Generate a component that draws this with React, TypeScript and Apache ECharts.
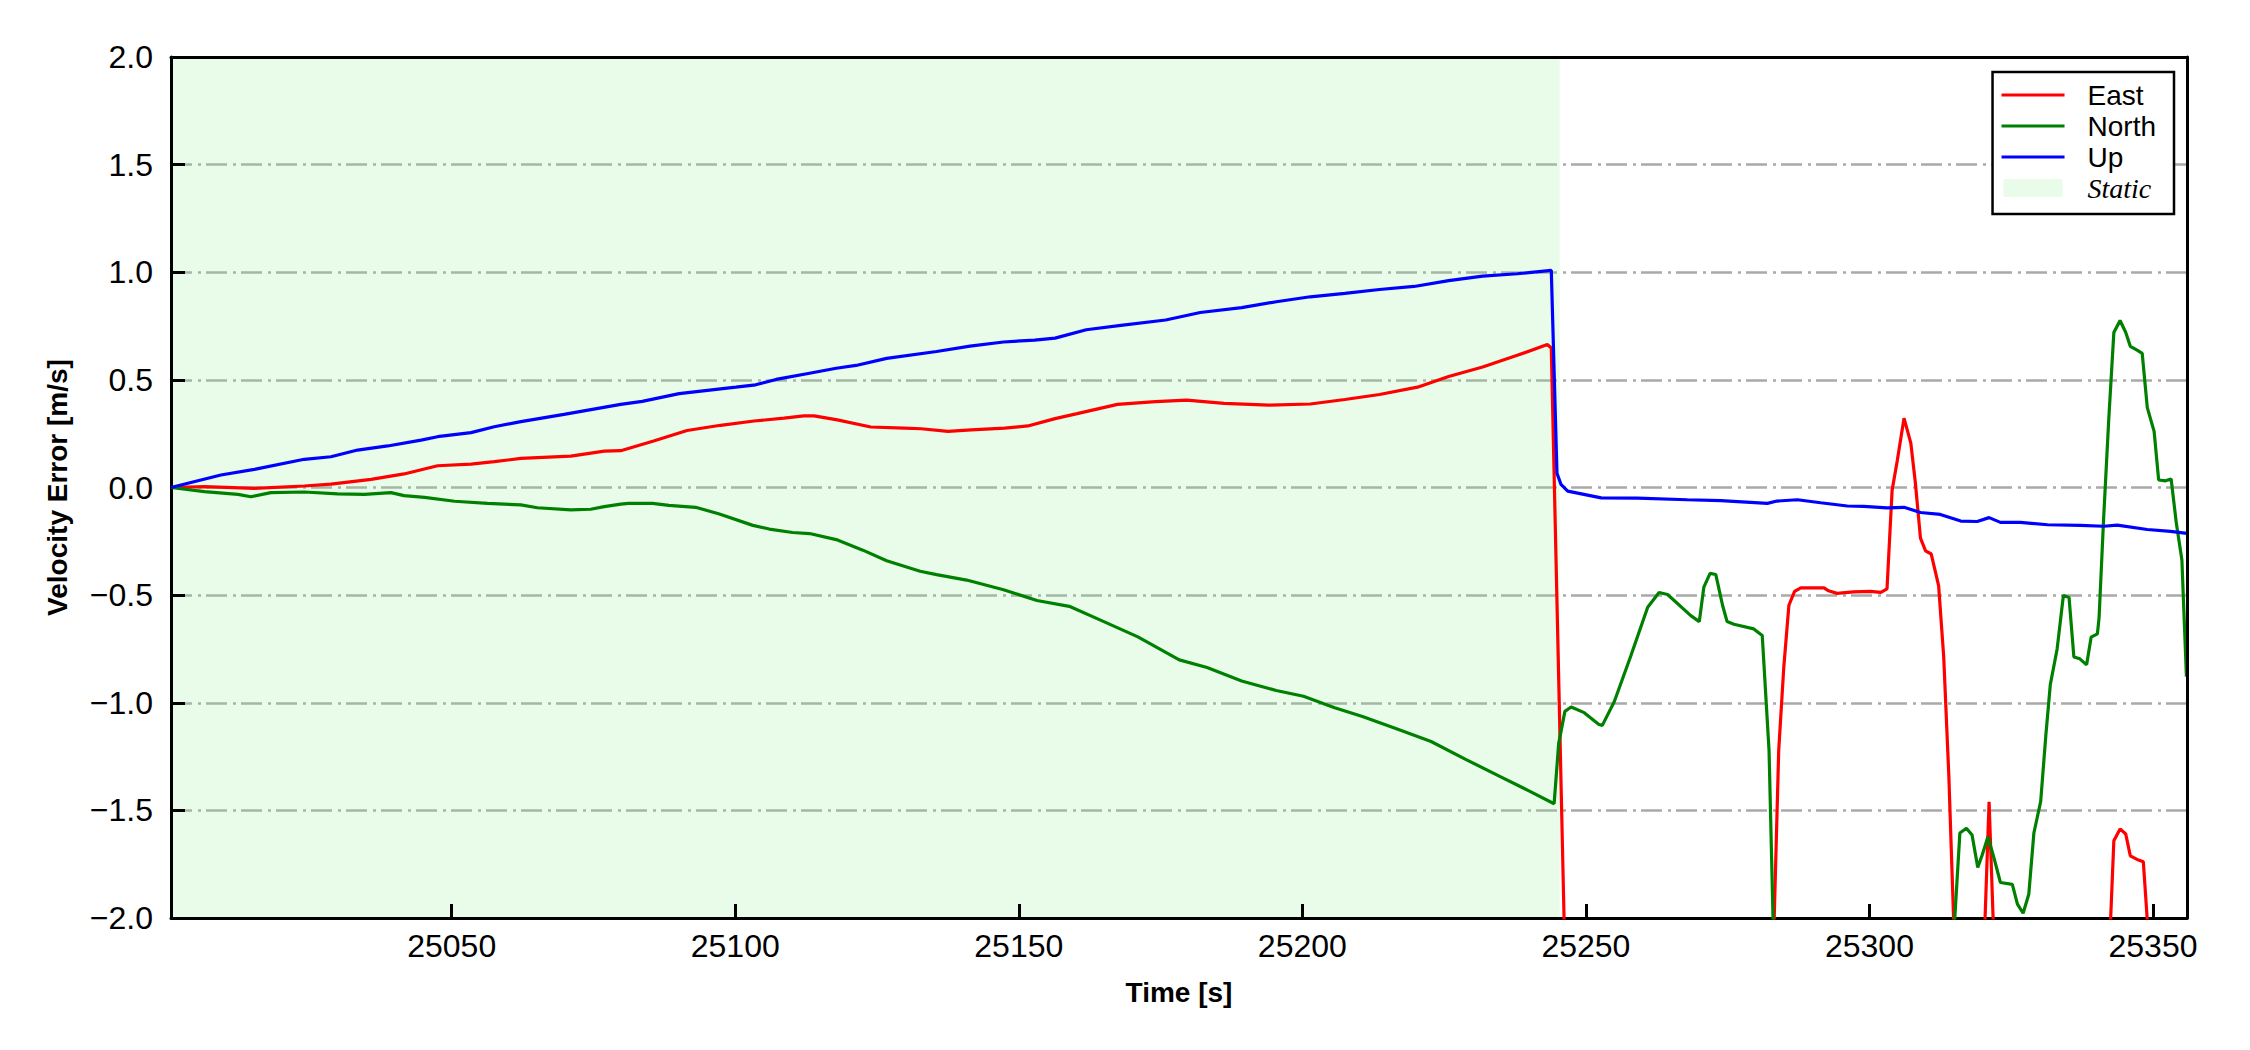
import React, { useEffect, useRef } from 'react';
import * as echarts from 'echarts';

const xTicks = [25050, 25100, 25150, 25200, 25250, 25300, 25350];
const xRange = [25000.5, 25356.0];
const yRange = [-2, 2];
const yStep = 0.5;
const staticRange = [25000.5, 25245.4];

const seriesNames = ['East', 'North', 'Up', 'Static'];
const seriesColors = ['#ff0000', '#008000', '#0000ff', 'rgba(144,238,144,0.2)'];

const eastData: [number, number][] = [
  [25000.5, 0.0], [25006.4, 0.004], [25015.2, -0.004], [25024.0, 0.007], [25028.7, 0.016],
  [25035.8, 0.038], [25041.6, 0.063], [25047.5, 0.101], [25053.4, 0.109], [25057.5, 0.12],
  [25062.2, 0.135], [25071.0, 0.146], [25076.9, 0.169], [25079.8, 0.171], [25085.6, 0.216],
  [25091.5, 0.265], [25097.4, 0.289], [25103.3, 0.309], [25108.6, 0.322], [25112.1, 0.333],
  [25113.9, 0.333], [25118.0, 0.314], [25123.9, 0.281], [25129.8, 0.276], [25132.8, 0.273],
  [25137.5, 0.261], [25141.6, 0.268], [25147.5, 0.276], [25151.6, 0.286], [25156.4, 0.32],
  [25160.1, 0.342], [25167.4, 0.386], [25174.1, 0.399], [25179.6, 0.406], [25186.2, 0.391],
  [25194.1, 0.383], [25201.4, 0.388], [25207.5, 0.409], [25213.6, 0.432], [25220.3, 0.466],
  [25225.8, 0.516], [25231.8, 0.56], [25237.9, 0.614], [25243.2, 0.664], [25243.9, 0.648],
  [25247.0, -3.0], [25250.0, -3.5], [25265.0, -3.5], [25280.0, -3.2], [25282.4, -2.8],
  [25284.0, -1.223], [25284.9, -0.834], [25285.8, -0.547], [25286.8, -0.483], [25287.9, -0.466],
  [25292.0, -0.466], [25292.8, -0.48], [25294.3, -0.492], [25297.2, -0.485], [25300.2, -0.483],
  [25302.0, -0.487], [25303.1, -0.471], [25304.0, -0.013], [25304.9, 0.123], [25306.1, 0.322],
  [25307.3, 0.206], [25308.1, 0.022], [25309.0, -0.235], [25309.9, -0.294], [25310.9, -0.309],
  [25312.2, -0.456], [25313.1, -0.787], [25314.0, -1.338], [25314.9, -2.05], [25315.5, -2.9],
  [25318.0, -3.0], [25320.0, -2.3], [25321.1, -1.46], [25322.2, -2.3], [25330.0, -3.0],
  [25341.3, -2.8], [25343.1, -1.641], [25344.2, -1.586], [25345.2, -1.61], [25346.0, -1.711],
  [25347.2, -1.728], [25348.3, -1.739], [25350.0, -2.4], [25356.0, -3.0],
];

const northData: [number, number][] = [
  [25000.5, 0.0], [25006.4, -0.019], [25012.3, -0.032], [25014.6, -0.043], [25018.1, -0.024],
  [25024.0, -0.021], [25029.9, -0.03], [25034.6, -0.032], [25039.3, -0.024], [25041.6, -0.038],
  [25045.2, -0.046], [25050.5, -0.064], [25056.3, -0.074], [25062.2, -0.081], [25065.1, -0.094],
  [25071.0, -0.104], [25074.5, -0.101], [25076.9, -0.089], [25079.8, -0.077], [25081.2, -0.074],
  [25085.4, -0.074], [25088.3, -0.083], [25093.0, -0.092], [25097.2, -0.123], [25103.1, -0.176],
  [25106.0, -0.193], [25110.1, -0.209], [25113.1, -0.214], [25117.8, -0.242], [25122.5, -0.291],
  [25126.7, -0.34], [25132.6, -0.389], [25135.5, -0.405], [25140.8, -0.43], [25147.3, -0.475],
  [25153.2, -0.525], [25158.9, -0.552], [25165.0, -0.623], [25171.0, -0.694], [25178.3, -0.801],
  [25183.2, -0.836], [25189.3, -0.899], [25195.4, -0.943], [25200.2, -0.97], [25205.7, -1.023],
  [25210.6, -1.064], [25216.6, -1.121], [25222.7, -1.18], [25228.8, -1.263], [25234.9, -1.343],
  [25239.7, -1.406], [25244.4, -1.469], [25245.2, -1.19], [25246.3, -1.04], [25247.4, -1.02],
  [25249.7, -1.046], [25252.3, -1.101], [25252.9, -1.105], [25255.0, -0.995], [25257.9, -0.784],
  [25260.9, -0.556], [25262.9, -0.488], [25264.4, -0.497], [25268.5, -0.595], [25270.0, -0.623],
  [25270.8, -0.463], [25271.9, -0.399], [25272.9, -0.404], [25274.1, -0.547], [25274.9, -0.623],
  [25276.1, -0.635], [25279.6, -0.657], [25281.1, -0.688], [25282.3, -1.223], [25283.0, -2.0],
  [25283.5, -2.6], [25290.0, -3.5], [25300.0, -3.5], [25310.0, -3.2], [25314.6, -2.2],
  [25315.95, -1.605], [25317.1, -1.583], [25318.1, -1.614], [25319.1, -1.765], [25319.9, -1.706],
  [25320.9, -1.623], [25321.9, -1.715], [25323.1, -1.835], [25325.2, -1.844], [25326.1, -1.936],
  [25327.1, -1.978], [25328.1, -1.89], [25329.0, -1.605], [25330.2, -1.458], [25331.1, -1.154],
  [25331.9, -0.915], [25333.1, -0.75], [25334.2, -0.502], [25335.2, -0.511], [25336.05, -0.787],
  [25337.1, -0.796], [25338.3, -0.824], [25339.1, -0.695], [25340.2, -0.68], [25340.5, -0.603],
  [25341.3, -0.143], [25342.2, 0.316], [25343.1, 0.72], [25344.2, 0.776], [25345.2, 0.72],
  [25346.0, 0.656], [25347.2, 0.638], [25348.1, 0.623], [25349.0, 0.371], [25350.2, 0.261],
  [25351.0, 0.035], [25352.2, 0.031], [25353.2, 0.04], [25354.1, -0.162], [25355.1, -0.337],
  [25355.9, -0.879],
];

const upData: [number, number][] = [
  [25000.5, 0.0], [25009.3, 0.058], [25015.2, 0.084], [25024.0, 0.131], [25028.7, 0.143],
  [25033.4, 0.174], [25038.7, 0.193], [25044.6, 0.22], [25047.5, 0.236], [25053.4, 0.255],
  [25057.5, 0.282], [25062.2, 0.306], [25069.8, 0.34], [25079.8, 0.386], [25083.6, 0.4],
  [25090.1, 0.436], [25100.1, 0.466], [25103.6, 0.477], [25107.2, 0.502], [25113.1, 0.531],
  [25117.8, 0.554], [25121.3, 0.567], [25126.7, 0.6], [25135.5, 0.632], [25141.4, 0.657],
  [25147.3, 0.676], [25152.8, 0.685], [25156.4, 0.694], [25161.9, 0.733], [25168.0, 0.753],
  [25175.9, 0.778], [25182.0, 0.813], [25189.3, 0.836], [25195.4, 0.863], [25201.4, 0.886],
  [25207.5, 0.902], [25213.6, 0.92], [25219.7, 0.934], [25225.8, 0.961], [25231.8, 0.982],
  [25237.9, 0.993], [25243.9, 1.009], [25244.9, 0.066], [25245.6, 0.015], [25246.8, -0.017],
  [25252.7, -0.048], [25259.1, -0.049], [25267.9, -0.057], [25273.8, -0.061], [25282.0, -0.074],
  [25283.7, -0.063], [25287.3, -0.057], [25291.4, -0.071], [25296.1, -0.086], [25299.0, -0.088],
  [25303.1, -0.095], [25306.1, -0.092], [25309.0, -0.116], [25312.5, -0.125], [25316.1, -0.156],
  [25319.0, -0.158], [25321.1, -0.14], [25323.1, -0.162], [25326.6, -0.162], [25331.4, -0.173],
  [25337.2, -0.176], [25341.3, -0.18], [25343.7, -0.175], [25349.0, -0.195], [25353.1, -0.204],
  [25356.0, -0.213],
];

const SANS = 'Liberation Sans, Arial, sans-serif';
const SERIF = 'Liberation Serif, Times New Roman, serif';

const lineIcon = 'path://M0,0L0,0M81,0L81,0M0,18L0,18M0,7.5L63,7.5L63,10.5L0,10.5Z';
const rectIcon = 'path://M0,0L0,0M81,0L81,0M2,0L61,0L61,18L2,18Z';

function fmtY(v: number): string {
  return (v < 0 ? '\u2212' : '') + Math.abs(v).toFixed(1);
}

function fmtX(v: number): string {
  return String(Math.round(v));
}

export default function App() {
  const ref = useRef<HTMLDivElement>(null);
  useEffect(() => {
    if (!ref.current) return;
    const chart = echarts.init(ref.current, null, { renderer: 'svg' });
    const lineSeries = [eastData, northData, upData].map((d, i) => ({
      name: seriesNames[i],
      type: 'line',
      data: d,
      symbol: 'none',
      showSymbol: false,
      clip: true,
      z: 2,
      color: seriesColors[i],
      lineStyle: { width: 3.2, color: seriesColors[i] },
    }));
    const option: any = {
      animation: false,
      backgroundColor: '#ffffff',
      grid: { left: 171, right: 63, top: 57, bottom: 132, containLabel: false },
      xAxis: [
        {
          type: 'value',
          position: 'bottom',
          min: xRange[0],
          max: xRange[1],
          z: 1,
          name: 'Time [s]',
          nameLocation: 'middle',
          nameGap: 60,
          nameTextStyle: { fontFamily: SANS, fontSize: 28, fontWeight: 'bold', color: '#000' },
          axisLine: { show: true, onZero: false, lineStyle: { color: '#000', width: 3 } },
          axisTick: { show: true, inside: true, length: 14, customValues: xTicks, lineStyle: { color: '#000', width: 3 } },
          axisLabel: { show: true, customValues: xTicks, formatter: fmtX, margin: 12, fontFamily: SANS, fontSize: 32, color: '#000' },
          splitLine: { show: false },
        },
        {
          type: 'value',
          position: 'top',
          min: xRange[0],
          max: xRange[1],
          z: 3,
          axisLine: { show: true, onZero: false, lineStyle: { color: '#000', width: 3 } },
          axisTick: { show: false },
          axisLabel: { show: false },
          splitLine: { show: false },
        },
      ],
      yAxis: [
        {
          type: 'value',
          position: 'left',
          min: yRange[0],
          max: yRange[1],
          interval: yStep,
          z: 1,
          name: 'Velocity Error [m/s]',
          nameLocation: 'middle',
          nameGap: 100,
          nameTextStyle: { fontFamily: SANS, fontSize: 28, fontWeight: 'bold', color: '#000' },
          axisLine: { show: true, onZero: false, lineStyle: { color: '#000', width: 3 } },
          axisTick: { show: true, inside: true, length: 14, lineStyle: { color: '#000', width: 3 } },
          axisLabel: { show: true, margin: 18, fontFamily: SANS, fontSize: 32, color: '#000', formatter: fmtY },
          splitLine: { show: true, lineStyle: { color: '#a9a9a9', width: 2.5, type: [21, 6, 3, 5] } },
        },
        {
          type: 'value',
          position: 'right',
          min: yRange[0],
          max: yRange[1],
          interval: yStep,
          z: 3,
          axisLine: { show: true, onZero: false, lineStyle: { color: '#000', width: 3 } },
          axisTick: { show: false },
          axisLabel: { show: false },
          splitLine: { show: false },
        },
      ],
      legend: {
        show: true,
        orient: 'vertical',
        right: 76,
        top: 72,
        padding: [9, 18, 12, 9],
        itemGap: 3,
        itemWidth: 81,
        itemHeight: 18,
        backgroundColor: '#ffffff',
        borderColor: '#000000',
        borderWidth: 2.5,
        borderRadius: 0,
        textStyle: { fontFamily: SANS, fontSize: 28, color: '#000' },
        data: [
          { name: 'East', icon: lineIcon },
          { name: 'North', icon: lineIcon },
          { name: 'Up', icon: lineIcon },
          { name: 'Static', icon: rectIcon, textStyle: { fontFamily: SERIF, fontStyle: 'italic', fontSize: 28 } },
        ],
      },
      series: [
        {
          name: 'Static',
          type: 'line',
          data: [],
          z: 3,
          color: seriesColors[3],
          itemStyle: { color: seriesColors[3] },
          markArea: {
            silent: true,
            itemStyle: { color: seriesColors[3] },
            label: { show: false },
            data: [[{ xAxis: staticRange[0] }, { xAxis: staticRange[1] }]],
          },
        },
        ...lineSeries,
      ],
    };
    chart.setOption(option);
    return () => chart.dispose();
  }, []);
  return (
    <div
      ref={ref}
      style={{ position: 'fixed', left: 0, top: 0, width: 2250, height: 1050, background: '#fff' }}
    />
  );
}
